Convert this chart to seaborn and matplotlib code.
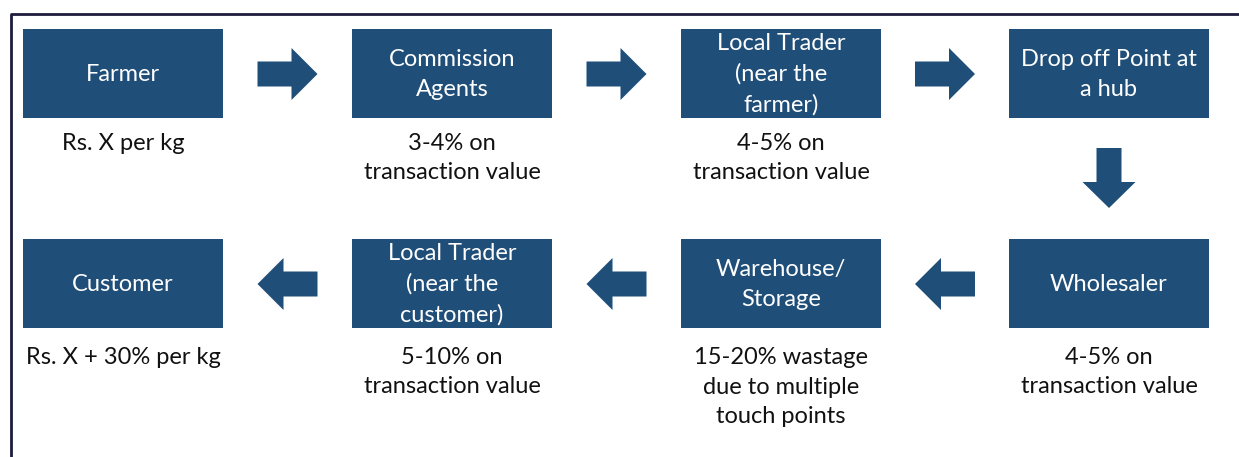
import matplotlib
matplotlib.use("Agg")
import matplotlib.pyplot as plt
from matplotlib.patches import Rectangle, Polygon
import seaborn as sns

# ---- data ----
top_nodes = ["Farmer", "Commission\nAgents", "Local Trader\n(near the\nfarmer)", "Drop off Point at\na hub"]
top_notes = ["Rs. X per kg", "3-4% on\ntransaction value", "4-5% on\ntransaction value", ""]
bottom_nodes = ["Customer", "Local Trader\n(near the\ncustomer)", "Warehouse/\nStorage", "Wholesaler"]
bottom_notes = ["Rs. X + 30% per kg", "5-10% on\ntransaction value",
                "15-20% wastage\ndue to multiple\ntouch points", "4-5% on\ntransaction value"]

sns.set_theme(style="white")
plt.rcParams['font.family'] = ['Lato', 'DejaVu Sans']

BOX = "#1F4E79"
W, H = 1239, 457
fig = plt.figure(figsize=(W / 100, H / 100), dpi=100)
ax = fig.add_axes([0, 0, 1, 1])
ax.set_xlim(0, W)
ax.set_ylim(H, 0)
ax.axis("off")

# frame
ax.plot([11, 11, W + 5], [H + 5, 14, 14], color="#1c1c3c", lw=2, solid_capstyle="butt")

col_x = [23, 352, 681, 1009]
bw, bh = 200, 89
row_y = [29, 239]
fs = 17
ls = 1.52
LINE = 30

def box(x, y, label):
    ax.add_patch(Rectangle((x, y), bw, bh, facecolor=BOX, edgecolor="none"))
    ax.text(x + bw / 2, y + bh / 2 + 1, label, color="white", ha="center", va="center",
            fontsize=fs, linespacing=ls, multialignment="center")

def note(x, first_y, label):
    if label:
        n = label.count("\n")
        ax.text(x + bw / 2, first_y + n * LINE / 2, label, color="#111111", ha="center",
                va="center", fontsize=fs, linespacing=ls, multialignment="center")

for i in range(4):
    box(col_x[i], row_y[0], top_nodes[i])
    note(col_x[i], 143, top_notes[i])
    box(col_x[i], row_y[1], bottom_nodes[i])
    note(col_x[i], 357, bottom_notes[i])

def harrow(x0, x1, cy, direction):
    # direction +1: right, -1: left
    sh, hh, hl = 12.5, 26, 26
    if direction > 0:
        pts = [(x0, cy - sh), (x1 - hl, cy - sh), (x1 - hl, cy - hh), (x1, cy),
               (x1 - hl, cy + hh), (x1 - hl, cy + sh), (x0, cy + sh)]
    else:
        pts = [(x1, cy - sh), (x0 + hl, cy - sh), (x0 + hl, cy - hh), (x0, cy),
               (x0 + hl, cy + hh), (x0 + hl, cy + sh), (x1, cy + sh)]
    ax.add_patch(Polygon(pts, closed=True, facecolor=BOX, edgecolor="none"))

for i in range(3):
    gap_l = col_x[i] + bw
    gap_r = col_x[i + 1]
    mid = (gap_l + gap_r) / 2
    harrow(mid - 30, mid + 30, 74, +1)
    harrow(mid - 30, mid + 30, 284, -1)

# down arrow
cx = col_x[3] + bw / 2
sh, hh = 12.5, 26.5
pts = [(cx - sh, 148), (cx + sh, 148), (cx + sh, 182), (cx + hh, 182), (cx, 208),
       (cx - hh, 182), (cx - sh, 182)]
ax.add_patch(Polygon(pts, closed=True, facecolor=BOX, edgecolor="none"))

fig.savefig("out.png", dpi=100)
